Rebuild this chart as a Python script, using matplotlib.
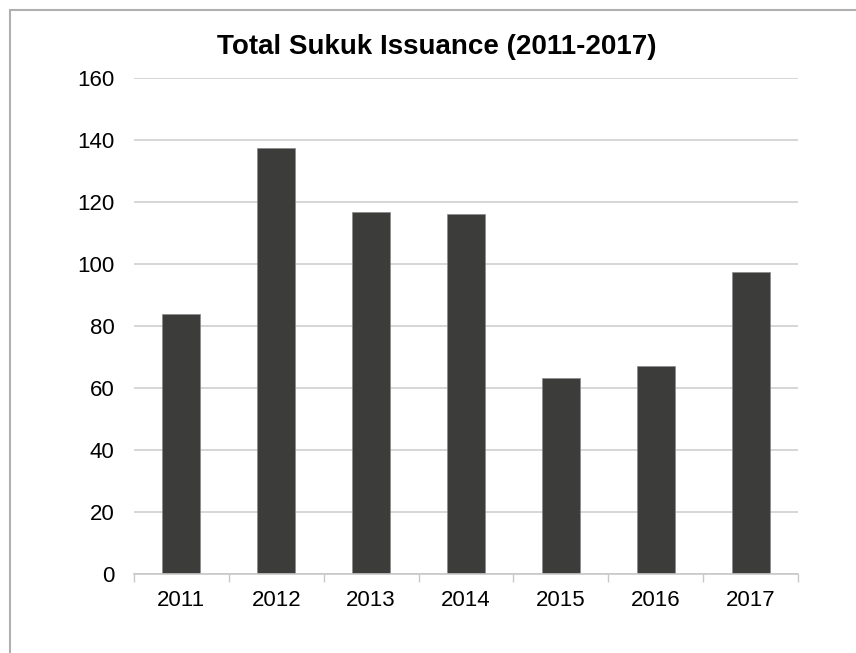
import matplotlib.pyplot as plt
from matplotlib.patches import Rectangle

plt.rcParams['font.family'] = ['Liberation Sans', 'DejaVu Sans']

years = ['2011', '2012', '2013', '2014', '2015', '2016', '2017']
issuance = [83.9, 137.6, 116.9, 116.3, 63.3, 67.1, 97.6]
y_ticks = [0, 20, 40, 60, 80, 100, 120, 140, 160]

W, H = 856, 653
fig = plt.figure(figsize=(W / 100, H / 100), dpi=100)
ax = fig.add_axes([134 / W, 1 - 574.3 / H, (798 - 134) / W, (574.3 - 78.3) / H])

# chart frame, only top and left edges fall inside the image
fig.patches.append(Rectangle((10 / W, -0.5), 2, 1 - 10 / H + 0.5,
                             transform=fig.transFigure, fill=False,
                             edgecolor='#b0b0b0', linewidth=1.5))

x = range(len(years))
ax.bar(x, issuance, width=0.4, color='#3c3c3a', edgecolor='#8a8a8a', linewidth=0.5, zorder=3)

ax.set_xlim(-0.5, len(years) - 0.5)
ax.set_ylim(0, 160)
ax.set_yticks(y_ticks)
ax.set_yticklabels([str(v) for v in y_ticks])
ax.set_xticks(list(x))
ax.set_xticklabels(years)
ax.tick_params(axis='y', length=0, pad=14, labelsize=16, colors='black')
ax.tick_params(axis='x', length=0, pad=11, labelsize=16, colors='black')

# tick marks between categories
ax.set_xticks([i - 0.5 for i in range(len(years) + 1)], minor=True)
ax.tick_params(axis='x', which='minor', length=6, width=1, color='#c8c8c8')

ax.grid(axis='y', color='#d0d0d0', linewidth=1.2, zorder=0)
for side in ['left', 'right', 'top']:
    ax.spines[side].set_visible(False)
ax.spines['bottom'].set_color('#c8c8c8')
ax.spines['bottom'].set_linewidth(1.2)
ax.spines['bottom'].set_zorder(4)

fig.text(437 / W, 1 - 47 / H, 'Total Sukuk Issuance (2011-2017)', ha='center', va='center',
         fontsize=20, fontweight='bold')

plt.savefig('out.png', dpi=100)
